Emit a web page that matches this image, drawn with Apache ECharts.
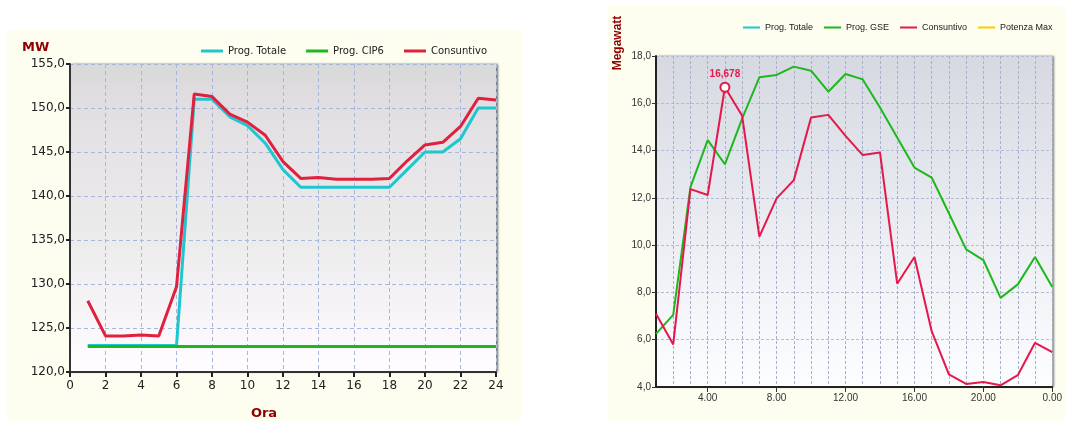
<!DOCTYPE html>
<html>
<head>
<meta charset="utf-8">
<script src="https://cdn.jsdelivr.net/npm/echarts@6/dist/echarts.min.js"></script>
<style>
  html, body { margin: 0; padding: 0; background: #ffffff; width: 1065px; height: 421px; overflow: hidden; }
  #left { position: absolute; left: 7px; top: 30px; width: 514px; height: 391px; background: #fdfdf0; }
  #right { position: absolute; left: 608px; top: 6px; width: 457px; height: 415px; background: #fdfdf0; }
</style>
</head>
<body>
<div id="left"></div>
<div id="right"></div>
<script>
// ---------- Left chart data ----------
const leftHours = [1, 2, 3, 4, 5, 6, 7, 8, 9, 10, 11, 12, 13, 14, 15, 16, 17, 18, 19, 20, 21, 22, 23, 24];
const leftTotale = [123, 123, 123, 123, 123, 123, 151, 151, 149, 148, 146, 143, 141, 141, 141, 141, 141, 141, 143, 145, 145, 146.5, 150, 150];
const leftCip6 = [122.9, 122.9, 122.9, 122.9, 122.9, 122.9, 122.9, 122.9, 122.9, 122.9, 122.9, 122.9, 122.9, 122.9, 122.9, 122.9, 122.9, 122.9, 122.9, 122.9, 122.9, 122.9, 122.9, 122.9];
const leftCons = [128.1, 124.1, 124.1, 124.2, 124.1, 129.7, 151.6, 151.3, 149.3, 148.4, 146.9, 143.9, 142.0, 142.1, 141.9, 141.9, 141.9, 142.0, 144.0, 145.8, 146.1, 147.9, 151.1, 150.9];
const leftNames = ['Prog. Totale', 'Prog. CIP6', 'Consuntivo'];

// ---------- Right chart data ----------
const rightHours = ['1', '2', '3', '4', '5', '6', '7', '8', '9', '10', '11', '12', '13', '14', '15', '16', '17', '18', '19', '20', '21', '22', '23', '24'];
const rightTotale = [];
const rightGse = [6.25, 7.05, 12.45, 14.44, 13.42, 15.35, 17.1, 17.2, 17.55, 17.38, 16.49, 17.24, 17.01, 15.82, 14.55, 13.28, 12.86, 11.35, 9.82, 9.37, 7.77, 8.34, 9.5, 8.23];
const rightCons = [7.1, 5.8, 12.37, 12.12, 16.678, 15.47, 10.36, 11.98, 12.75, 15.4, 15.51, 14.62, 13.81, 13.92, 8.37, 9.5, 6.36, 4.53, 4.13, 4.21, 4.07, 4.5, 5.87, 5.47];
const rightPotMax = [];
const rightNames = ['Prog. Totale', 'Prog. GSE', 'Consuntivo', 'Potenza Max'];

const CYAN = '#1fc6d0', GREEN = '#1db81d', RED_L = '#e0203f', RED_R = '#e4184c', GOLD = '#ffcc00';
const DARKRED = '#8e0000';
const commaFmt = (v, d) => v.toFixed(d).replace('.', ',');
const pairs = (xs, ys) => xs.map((x, i) => [x, ys[i]]);

// ---------- Left chart ----------
const leftFont = "'DejaVu Sans', Verdana, sans-serif";
const leftChart = echarts.init(document.getElementById('left'), null, { renderer: 'canvas' });
leftChart.setOption({
  animation: false,
  textStyle: { fontFamily: leftFont },
  title: [
    { text: 'MW', left: 10, top: 6, textStyle: { fontFamily: leftFont, fontSize: 13, fontWeight: 'bold', color: DARKRED } },
    { text: 'Ora', left: 'center', top: 377, textStyle: { fontFamily: leftFont, fontSize: 13, fontWeight: 'bold', color: DARKRED }, padding: 0 }
  ],
  legend: {
    left: 189, top: 11, icon: 'rect', itemWidth: 22, itemHeight: 3, itemGap: 20,
    data: leftNames,
    textStyle: { fontFamily: leftFont, fontSize: 10, color: '#222' }
  },
  grid: {
    left: 63, top: 34, width: 426, height: 308,
    show: true, borderWidth: 0,
    backgroundColor: new echarts.graphic.LinearGradient(0, 0, 0, 1, [
      { offset: 0, color: '#d9d9d9' },
      { offset: 0.08, color: '#dedcde' },
      { offset: 0.3, color: '#e6e4e6' },
      { offset: 0.55, color: '#ecebec' },
      { offset: 0.78, color: '#f5f3f5' },
      { offset: 1, color: '#fffdff' }
    ]),
    shadowColor: 'rgba(0,0,0,0.55)', shadowBlur: 2, shadowOffsetX: 2, shadowOffsetY: 0
  },
  xAxis: {
    type: 'value', min: 0, max: 24, interval: 2,
    axisLine: { show: true, lineStyle: { color: '#333', width: 2 } },
    axisTick: { show: true, length: 5, lineStyle: { color: '#222', width: 2 } },
    axisLabel: { fontSize: 12, color: '#222', margin: 8, fontFamily: leftFont },
    splitLine: { show: true, lineStyle: { color: '#a9b6dc', type: [4, 3], width: 1 } }
  },
  yAxis: {
    type: 'value', min: 120, max: 155, interval: 5,
    axisLine: { show: true, lineStyle: { color: '#333', width: 2 } },
    axisTick: { show: true, length: 4, lineStyle: { color: '#222', width: 2 } },
    axisLabel: { fontSize: 12, color: '#222', margin: 5, fontFamily: leftFont, formatter: v => commaFmt(v, 1) },
    splitLine: { show: true, lineStyle: { color: '#a9b6dc', type: [4, 3], width: 1 } }
  },
  series: [
    { name: leftNames[0], type: 'line', data: pairs(leftHours, leftTotale), showSymbol: false, color: CYAN, lineStyle: { width: 3, color: CYAN } },
    { name: leftNames[1], type: 'line', data: pairs(leftHours, leftCip6), showSymbol: false, color: GREEN, lineStyle: { width: 3, color: GREEN } },
    { name: leftNames[2], type: 'line', data: pairs(leftHours, leftCons), showSymbol: false, color: RED_L, lineStyle: { width: 3, color: RED_L } }
  ]
});

// ---------- Right chart ----------
const rightFont = "'Liberation Sans', Arial, sans-serif";
const showEvery4 = (idx) => (idx + 1) % 4 === 0;
let peakIdx = 0;
rightCons.forEach((v, i) => { if (v > rightCons[peakIdx]) peakIdx = i; });

const rightChart = echarts.init(document.getElementById('right'), null, { renderer: 'canvas' });
rightChart.setOption({
  animation: false,
  textStyle: { fontFamily: rightFont },
  graphic: [{
    type: 'text', x: 10, y: 37, rotation: Math.PI / 2,
    style: { text: 'Megawatt', font: "bold 12px 'Liberation Sans', Arial, sans-serif", fill: DARKRED, align: 'center', verticalAlign: 'middle' }
  }],
  legend: {
    left: 130, top: 12, width: 330, icon: 'rect', itemWidth: 17, itemHeight: 2, itemGap: 11,
    data: rightNames,
    textStyle: { fontFamily: rightFont, fontSize: 9, color: '#222' }
  },
  grid: {
    left: 48, top: 50, width: 398, height: 331,
    show: true, borderWidth: 0,
    backgroundColor: new echarts.graphic.LinearGradient(0, 0, 0, 1, [
      { offset: 0, color: '#d6d9e1' },
      { offset: 0.35, color: '#e3e6ec' },
      { offset: 0.7, color: '#f1f3f7' },
      { offset: 1, color: '#fcfdff' }
    ]),
    shadowColor: 'rgba(0,0,0,0.5)', shadowBlur: 2, shadowOffsetX: 2, shadowOffsetY: 0
  },
  xAxis: {
    type: 'category', data: rightHours, boundaryGap: false,
    axisLine: { show: true, lineStyle: { color: '#222', width: 2 } },
    axisTick: { show: true, interval: showEvery4, length: 5, lineStyle: { color: '#333', width: 1 } },
    axisLabel: {
      interval: showEvery4, fontSize: 10, color: '#333', margin: 6, fontFamily: rightFont,
      formatter: v => (Number(v) % 24) + '.00'
    },
    splitLine: { show: true, interval: 0, lineStyle: { color: '#aab0cc', type: [3, 2], width: 1 } }
  },
  yAxis: {
    type: 'value', min: 4, max: 18, interval: 2,
    axisLine: { show: true, lineStyle: { color: '#222', width: 2 } },
    axisTick: { show: true, length: 4, lineStyle: { color: '#333', width: 1 } },
    axisLabel: { fontSize: 10, color: '#333', margin: 5, fontFamily: rightFont, formatter: v => commaFmt(v, 1) },
    splitLine: { show: true, lineStyle: { color: '#b5bbd6', type: [3, 2], width: 1 } }
  },
  series: [
    { name: rightNames[0], type: 'line', data: rightTotale, showSymbol: false, color: CYAN, lineStyle: { width: 2, color: CYAN } },
    { name: rightNames[1], type: 'line', data: rightGse, showSymbol: false, color: GREEN, lineStyle: { width: 2, color: GREEN } },
    {
      name: rightNames[2], type: 'line', data: rightCons, showSymbol: false, color: RED_R, lineStyle: { width: 2, color: RED_R },
      markPoint: {
        symbol: 'circle', symbolSize: 9,
        itemStyle: { color: '#ffffff', borderColor: RED_R, borderWidth: 2 },
        label: {
          show: true, position: 'top', distance: 3, color: RED_R, fontWeight: 'bold', fontSize: 10, fontFamily: rightFont,
          formatter: p => commaFmt(p.value, 3)
        },
        data: [{ coord: [rightHours[peakIdx], rightCons[peakIdx]], value: rightCons[peakIdx] }]
      }
    },
    { name: rightNames[3], type: 'line', data: rightPotMax, showSymbol: false, color: GOLD, lineStyle: { width: 2, color: GOLD } }
  ]
});
</script>
</body>
</html>
